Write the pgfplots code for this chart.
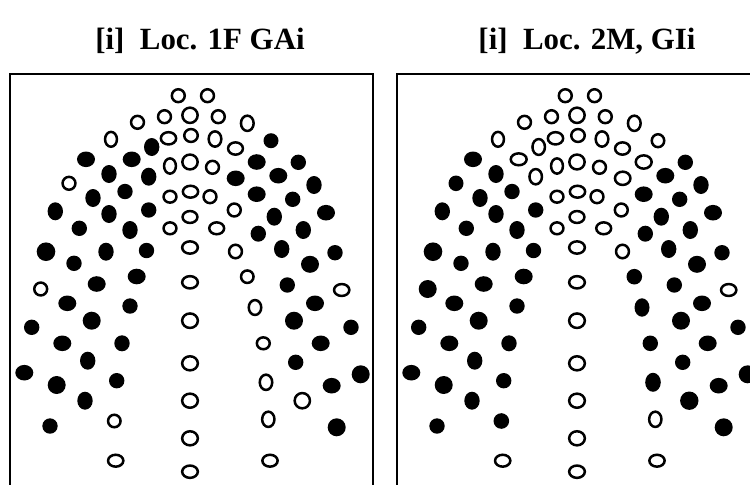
\documentclass[border=0pt]{standalone}
\usepackage{pgfplots}
\pgfplotsset{compat=1.18}
\usepackage{pgfplotstable}
\usepackage{fontspec}
\setmainfont{Liberation Serif}

\pgfdeclareplotmark{ellf}{%
  \pgfpathellipse{\pgfpointorigin}{\pgfpoint{\rx bp}{0pt}}{\pgfpoint{0pt}{\ry bp}}%
  \pgfusepathqfill}
\pgfdeclareplotmark{ello}{%
  \pgfpathellipse{\pgfpointorigin}{\pgfpoint{\rx bp-1.25bp}{0pt}}{\pgfpoint{0pt}{\ry bp-1.25bp}}%
  \pgfusepathqfillstroke}

% open in both panels
\pgfplotstableread{
x y rx ry
178.3 95.7 7.7 7.7
207.5 95.7 7.7 7.7
137.5 122.3 7.7 7.7
164.5 116.7 7.7 7.7
190 115.3 8.9 8.9
218.3 116.7 7.7 7.7
247.3 123.3 7.6 8.9
111 139.3 7.2 8.7
168.5 138.3 8.9 7.4
191 135.5 8 7.7
215 139 7.6 8.9
235.5 148.5 8.7 7.4
170 166 7.2 8.9
190 162 8.9 8.7
212.5 167.3 7.7 7.7
170 196.7 7.7 7.2
190.5 191.7 8.9 7.2
210 196.7 7.7 7.7
234.3 210 7.7 7.7
190 217 8.7 7.2
170 228.3 7.7 7.2
216.7 228.3 8.7 7.2
190 247.5 9.1 7.4
235.5 251.5 7.7 8
190 282.3 9.1 7.4
341.7 290 8.9 7.2
190 320.7 9.1 8.5
190 363.3 9.1 8.3
190 400.7 9.1 8.3
268.3 419.3 7.4 8.9
190 438.3 9.1 8.3
115.7 460.7 8.9 7.2
190 471.7 9.1 7.4
270 460.7 8.9 7.2
}\tabA

% filled in both panels
\pgfplotstableread{
x y rx ry
86 159.3 9 7.8
109 174 7.7 9
125 191.5 7.7 7.7
93 198 7.7 9
55.3 211.3 7.7 9
109 214 7.7 9
148.7 210 7.7 7.7
79.3 228.3 7.7 7.7
130 230 7.7 9
46 251.7 9.3 9.3
106 251.7 7.7 9
146.5 250.5 7.7 7.7
74 263.3 7.7 7.7
96.7 284 9 7.8
136.7 276.5 9 7.8
67.3 303.3 9 7.8
130 306 7.7 7.7
91.7 320.7 9 9
31.7 327.3 7.7 7.7
62.3 343.3 9 7.8
122 343.3 7.7 8
87.7 360.7 7.7 9
24.3 372.7 9 7.8
56.7 385 9 9
116.7 380.7 7.7 7.7
85 400.7 7.7 9
50 426 7.7 7.7
278.3 175.7 9 7.8
298.3 162.3 7.7 7.7
314 185 7.7 9
256.7 194.2 9 7.8
292.7 199.3 7.7 7.7
326 212.7 9 7.8
274.3 216.7 7.7 9
258.3 233.7 7.7 8
303.3 230 7.7 9
281.7 249 7.7 9
335 252.7 7.7 7.7
310 264.3 9 8.5
287.3 285 7.7 7.7
315 303.3 9 7.8
294 320.7 9 9
351 327.3 7.7 7.7
320.7 343.3 9 7.8
295.7 362.3 7.7 7.7
360.7 374.3 9 9
331.7 385.7 9 7.8
336.7 427.3 9 9
}\tabB

% open in left panel, filled in right panel
\pgfplotstableread{
x y rxa rya rxb ryb
69 183.3 7.7 7.7 7.5 7.8
40.7 289 7.7 7.7 9 9
114.3 421 7.5 7.5 7.8 7.8
247.3 276.7 7.5 7.5 7.8 7.8
255 307.5 7.5 8.7 7.5 9.2
263.3 343.3 7.7 7.2 7.7 7.8
266 382.3 7.5 8.9 7.8 9.5
302.3 400.7 8.9 8.9 9.2 9.2
}\tabC

% filled in left panel, open in right panel
\pgfplotstableread{
x y rxa rya rxb ryb
151.7 147 7.7 9 7.5 9.2
131.7 159.3 9 7.8 9.2 7.2
148.7 176.7 7.7 9 7.5 8.9
271 140.7 7.5 7.5 7.5 7.7
256.7 162 9 7.8 9.2 7.9
235.7 178.3 9 7.8 9 7.9
}\tabD

\pgfplotsset{
  panel/.style={
    x=1bp, y=1bp, y dir=reverse,
    xmin=10, xmax=373, ymin=74, ymax=500,
    axis line style={line width=2.4bp, black},
    ticks=none, clip=false, anchor=north west,
  },
  openm/.style={only marks, scatter, mark=ello,
    scatter/use mapped color={draw=black, fill=white},
    mark options={line width=2.5bp}},
  fillm/.style={only marks, scatter, mark=ellf,
    scatter/use mapped color={draw=black, fill=black}},
}

\begin{document}
\begin{tikzpicture}
\begin{axis}[panel, at={(10bp,-74bp)}]
\addplot[openm, visualization depends on={\thisrow{rx} \as \rx},
  visualization depends on={\thisrow{ry} \as \ry}] table[x=x,y=y] {\tabA};
\addplot[openm, visualization depends on={\thisrow{rxa} \as \rx},
  visualization depends on={\thisrow{rya} \as \ry}] table[x=x,y=y] {\tabC};
\addplot[fillm, visualization depends on={\thisrow{rx} \as \rx},
  visualization depends on={\thisrow{ry} \as \ry}] table[x=x,y=y] {\tabB};
\addplot[fillm, visualization depends on={\thisrow{rxa} \as \rx},
  visualization depends on={\thisrow{rya} \as \ry}] table[x=x,y=y] {\tabD};
\end{axis}
\begin{axis}[panel, at={(397bp,-74bp)}]
\addplot[openm, visualization depends on={\thisrow{rx} \as \rx},
  visualization depends on={\thisrow{ry} \as \ry}] table[x=x,y=y] {\tabA};
\addplot[openm, visualization depends on={\thisrow{rxb} \as \rx},
  visualization depends on={\thisrow{ryb} \as \ry}] table[x=x,y=y] {\tabD};
\addplot[fillm, visualization depends on={\thisrow{rx} \as \rx},
  visualization depends on={\thisrow{ry} \as \ry}] table[x=x,y=y] {\tabB};
\addplot[fillm, visualization depends on={\thisrow{rxb} \as \rx},
  visualization depends on={\thisrow{ryb} \as \ry}] table[x=x,y=y] {\tabC};
\end{axis}
\node[font=\bfseries\fontsize{31}{36}\selectfont, anchor=base] at (200bp,-49bp) {[i]\ \ Loc. 1F GAi};
\node[font=\bfseries\fontsize{31}{36}\selectfont, anchor=base] at (587bp,-49bp) {[i]\ \ Loc. 2M, GIi};
\pgfresetboundingbox
\path[use as bounding box] (0,0) rectangle (750bp,-485bp);
\end{tikzpicture}
\end{document}
